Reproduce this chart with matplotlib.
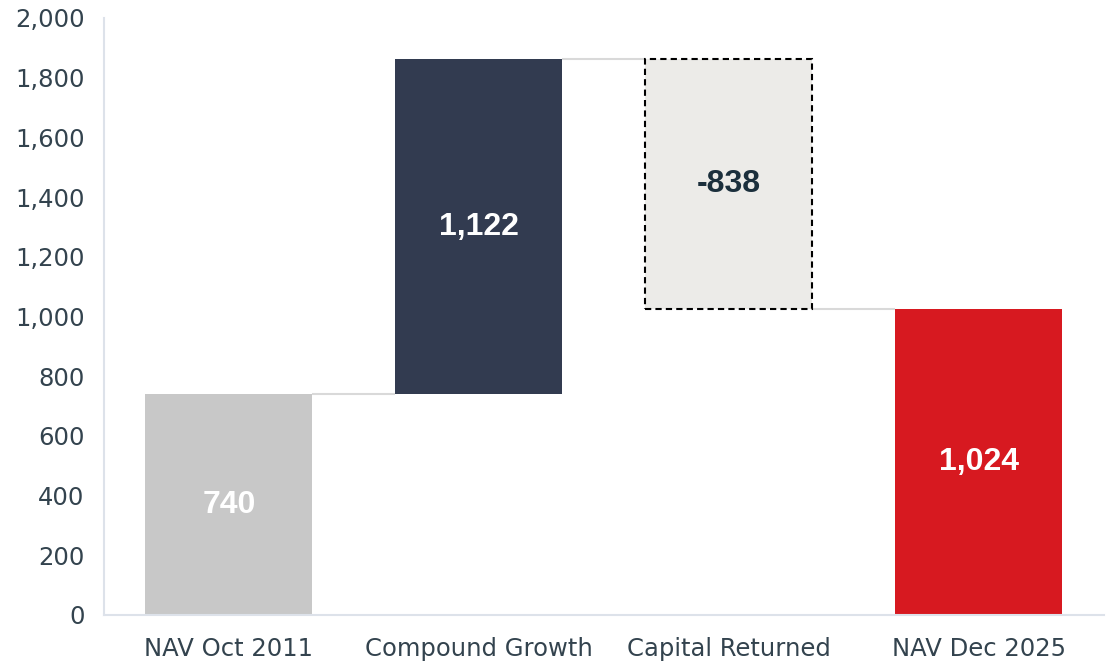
import matplotlib
matplotlib.use("Agg")
import matplotlib.pyplot as plt
from matplotlib.font_manager import FontProperties
import numpy as np

categories = ["NAV Oct 2011", "Compound Growth", "Capital Returned", "NAV Dec 2025"]
changes = [740, 1122, -838, 1024]
kinds = ["total", "delta", "delta", "total"]
value_labels = ["740", "1,122", "-838", "1,024"]
yticks = [0, 200, 400, 600, 800, 1000, 1200, 1400, 1600, 1800, 2000]

bar_colors = ["#c8c8c8", "#323b50", "#ecebe8", "#d71920"]
label_colors = ["white", "white", "#1b2f3c", "white"]

plt.rcParams['font.family'] = ['DejaVu Sans']

fig = plt.figure(figsize=(11.09, 6.64), dpi=100)
ax = fig.add_axes([104/1109, 1 - 615/664, (1103.5 - 104)/1109, (615 - 18)/664])

# compute waterfall positions
bottoms, tops = [], []
running = 0
for ch, k in zip(changes, kinds):
    if k == "total":
        b, t = 0, ch
        running = ch
    else:
        start = running
        running = running + ch
        b, t = min(start, running), max(start, running)
    bottoms.append(b)
    tops.append(t)

value_font = FontProperties(family="Liberation Sans", weight="bold", size=23)

x = np.arange(len(categories))
width = 0.668
for i in range(len(categories)):
    h = tops[i] - bottoms[i]
    if i == 2:
        ax.bar(x[i], h, bottom=bottoms[i], width=width, color=bar_colors[i],
               edgecolor="black", linestyle=(0, (3, 2)), linewidth=1.5, zorder=2)
    else:
        ax.bar(x[i], h, bottom=bottoms[i], width=width, color=bar_colors[i],
               linewidth=0, zorder=2)
    ax.text(x[i], bottoms[i] + h / 2, value_labels[i], ha="center", va="center",
            fontproperties=value_font, color=label_colors[i], zorder=3)

# connectors
levels = []
running = 0
for ch, k in zip(changes, kinds):
    running = ch if k == "total" else running + ch
    levels.append(running)
for i in range(len(categories) - 1):
    ax.plot([x[i] + width / 2, x[i + 1] - width / 2], [levels[i], levels[i]],
            color="#d9d9d9", linewidth=1.5, zorder=1, solid_capstyle="butt")

ax.set_xlim(-0.5, 3.5)
ax.set_ylim(0, 2000)
ax.set_yticks(yticks)
ax.set_yticklabels([f"{v:,}" for v in yticks])
ax.set_xticks(x)
ax.set_xticklabels(categories)
ax.tick_params(axis="both", length=0, labelsize=17.5, colors="#33434e")
ax.tick_params(axis="y", pad=14)
ax.tick_params(axis="x", pad=16)
for s in ["top", "right"]:
    ax.spines[s].set_visible(False)
for s in ["left", "bottom"]:
    ax.spines[s].set_color("#dde2ea")
    ax.spines[s].set_linewidth(1.5)

fig.savefig("out.png", dpi=100)
